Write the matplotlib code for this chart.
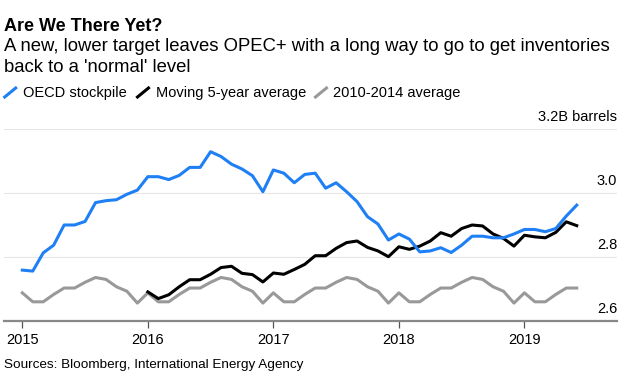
import matplotlib
matplotlib.use('Agg')
import matplotlib.pyplot as plt
import matplotlib.transforms as mtransforms
from matplotlib.lines import Line2D

# data: monthly values, Jan 2015 - Jun 2019 (billion barrels)
oecd_stockpile = [2.759, 2.756, 2.813, 2.837, 2.900, 2.900, 2.911, 2.970, 2.976, 2.979, 2.996, 3.009,
                  3.051, 3.051, 3.042, 3.055, 3.080, 3.080, 3.129, 3.114, 3.090, 3.075, 3.054, 3.004,
                  3.072, 3.062, 3.032, 3.058, 3.062, 3.015, 3.032, 3.004, 2.973, 2.926, 2.903, 2.853,
                  2.872, 2.856, 2.816, 2.819, 2.829, 2.814, 2.837, 2.865, 2.865, 2.860, 2.860, 2.872,
                  2.886, 2.886, 2.879, 2.889, 2.928, 2.962]
# moving 5-year average starts Jan 2016
moving_avg = [2.691, 2.670, 2.682, 2.707, 2.729, 2.729, 2.746, 2.767, 2.771, 2.749, 2.745, 2.722,
              2.750, 2.746, 2.761, 2.777, 2.804, 2.804, 2.827, 2.845, 2.850, 2.830, 2.819, 2.801,
              2.832, 2.824, 2.834, 2.850, 2.876, 2.865, 2.889, 2.900, 2.897, 2.872, 2.858, 2.834,
              2.868, 2.863, 2.860, 2.877, 2.910, 2.898]
avg_2010_2014 = [2.688, 2.660, 2.660, 2.683, 2.703, 2.703, 2.721, 2.736, 2.730, 2.707, 2.693, 2.656,
                 2.688, 2.660, 2.660, 2.683, 2.703, 2.703, 2.721, 2.736, 2.730, 2.707, 2.693, 2.656,
                 2.688, 2.660, 2.660, 2.683, 2.703, 2.703, 2.721, 2.736, 2.730, 2.707, 2.693, 2.656,
                 2.688, 2.660, 2.660, 2.683, 2.703, 2.703, 2.721, 2.736, 2.730, 2.707, 2.693, 2.656,
                 2.688, 2.660, 2.660, 2.683, 2.703, 2.703]
years = ['2015', '2016', '2017', '2018', '2019']
y_labels = ['2.6', '2.8', '3.0', '3.2B barrels']
y_values = [2.6, 2.8, 3.0, 3.2]

months = list(range(len(oecd_stockpile)))
months_avg = list(range(12, 12 + len(moving_avg)))

BLUE = '#1f7ff5'
GRAY = '#999999'

plt.rcParams['font.family'] = 'Liberation Sans'

W, H = 628, 385
fig = plt.figure(figsize=(W / 100, H / 100), dpi=100)
ax = fig.add_axes([4 / W, 64 / H, 613 / W, 192 / H])

ax.plot(months, avg_2010_2014, color=GRAY, lw=2.2, zorder=3)
ax.plot(months_avg, moving_avg, color='black', lw=2.2, zorder=4)
ax.plot(months, oecd_stockpile, color=BLUE, lw=2.2, zorder=5)

ax.set_xlim(-1.75, 56.85)
ax.set_ylim(2.6, 3.2)

for s in ['top', 'left', 'right']:
    ax.spines[s].set_visible(False)
ax.spines['bottom'].set_color('#888888')
ax.spines['bottom'].set_linewidth(1.6)
ax.spines['bottom'].set_zorder(6)

ax.set_xticks([0, 12, 24, 36, 48])
ax.set_xticklabels(years)
ax.tick_params(axis='x', direction='out', length=5, width=0.9, color='#555555',
               labelsize=10.5, pad=4, labelcolor='black')

ax.set_yticks(y_values)
ax.tick_params(axis='y', left=False, labelleft=False)
ax.grid(axis='y', color='#e6e6e6', lw=0.8)
ax.set_axisbelow(True)

trans = mtransforms.blended_transform_factory(ax.transAxes, ax.transData)
trans = mtransforms.offset_copy(trans, fig=fig, x=0, y=6, units='points')
for v, lab in zip(y_values, y_labels):
    ax.text(1.0, v, lab, transform=trans, ha='right', va='baseline', fontsize=10.5)

# titles
fig.text(4 / W, 1 - 31 / H, 'Are We There Yet?', fontsize=13, fontweight='bold', va='baseline')
fig.text(4 / W, 1 - 51 / H, "A new, lower target leaves OPEC+ with a long way to go to get inventories",
         fontsize=13.3, va='baseline')
fig.text(4 / W, 1 - 72 / H, "back to a 'normal' level", fontsize=13.3, va='baseline')

# legend
legend_items = [('OECD stockpile', BLUE, 4.7, 23),
                ('Moving 5-year average', 'black', 137.5, 156),
                ('2010-2014 average', GRAY, 315.5, 333)]
for label, col, sx, tx in legend_items:
    fig.add_artist(Line2D([sx / W, (sx + 11) / W], [1 - 97 / H, 1 - 88 / H],
                          transform=fig.transFigure, color=col, lw=2.2))
    fig.text(tx / W, 1 - 97 / H, label, fontsize=10.5, va='baseline')

fig.text(4 / W, 1 - 368 / H, 'Sources: Bloomberg, International Energy Agency',
         fontsize=9.7, va='baseline')

fig.savefig('out.png', dpi=100)
